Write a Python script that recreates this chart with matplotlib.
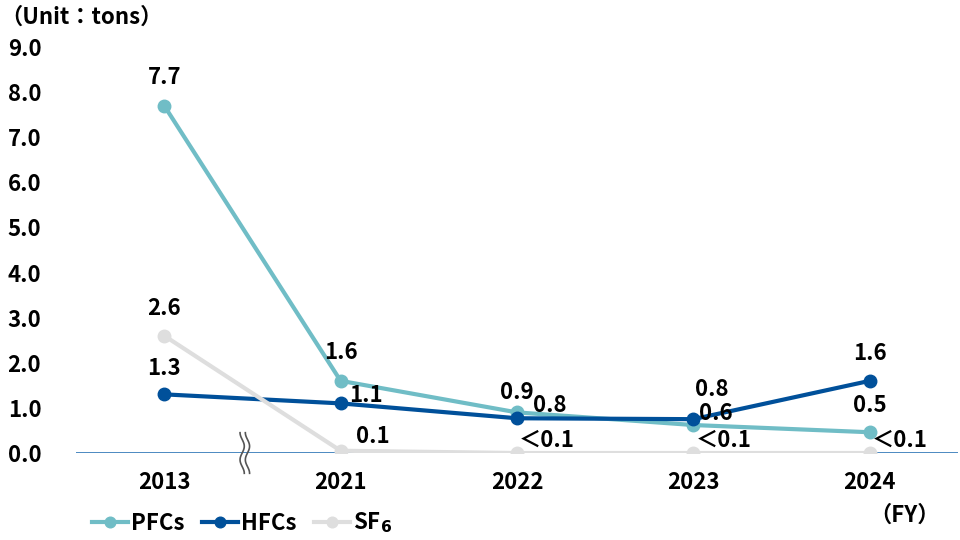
import numpy as np
import matplotlib
matplotlib.use("Agg")
import matplotlib.pyplot as plt

plt.rcParams['font.family'] = ['Noto Sans CJK JP', 'DejaVu Sans']
plt.rcParams['font.weight'] = 'bold'

years = ["2013", "2021", "2022", "2023", "2024"]
pfcs = [7.7, 1.6, 0.9, 0.62, 0.46]
hfcs = [1.3, 1.1, 0.77, 0.75, 1.6]
sf6 = [2.6, 0.05, 0.0, 0.0, 0.0]
pfcs_lbl = ["7.7", "1.6", "0.9", "0.6", "0.5"]
hfcs_lbl = ["1.3", "1.1", "0.8", "0.8", "1.6"]
sf6_lbl = ["2.6", "0.1", "＜0.1", "＜0.1", "＜0.1"]
yticks = np.arange(0, 10, 1.0)

c_pfc = "#70bdc6"
c_hfc = "#00509a"
c_sf6 = "#dedede"
fs = 16

fig = plt.figure(figsize=(9.6, 5.4), dpi=100)
ax = fig.add_axes([76 / 960, 87 / 540, 882 / 960, 406 / 540])
x = np.arange(len(years))

ax.axhline(0, color="#2e75b6", lw=1.2, zorder=1)
ax.plot(x, pfcs, color=c_pfc, lw=3, marker="o", ms=9, label="PFCs", zorder=3)
ax.plot(x, hfcs, color=c_hfc, lw=3, marker="o", ms=9, label="HFCs", zorder=4)
ax.plot(x, sf6, color=c_sf6, lw=3, marker="o", ms=9, label="SF$_6$", zorder=5)

# label offsets in pixels (dx, dy)
pfc_off = [(0, 28), (0, 28), (0, 20), (22, 12), (0, 27)]
hfc_off = [(0, 26), (25, 8), (33, 13), (18, 30), (0, 27)]
sf6_off = [(0, 27), (32, 14), (30, 13), (30, 13), (30, 13)]
for vals, lbls, offs in [(pfcs, pfcs_lbl, pfc_off), (hfcs, hfcs_lbl, hfc_off), (sf6, sf6_lbl, sf6_off)]:
    for i in range(len(years)):
        ax.annotate(lbls[i], (x[i], vals[i]), xytext=offs[i], textcoords="offset pixels",
                    ha="center", va="center", fontsize=fs, fontweight="bold", zorder=6)

ax.set_xlim(-0.5, 4.5)
ax.set_ylim(0, 9)
ax.set_yticks(yticks)
ax.set_yticklabels(["%.1f" % v for v in yticks])
ax.set_xticks(x)
ax.set_xticklabels(years)
ax.tick_params(length=0, labelsize=fs)
ax.tick_params(axis="y", pad=25)
ax.tick_params(axis="x", pad=13)
for lab in ax.get_xticklabels() + ax.get_yticklabels():
    lab.set_fontweight("bold")
for s in ax.spines.values():
    s.set_visible(False)
ax.patch.set_visible(False)

# axis break mark between 2013 and 2021
t = np.linspace(-1, 1, 50)
for dx in (-0.018, 0.012):
    bx = 0.46 + dx + 0.012 * np.sin(t * np.pi * 1.5)
    by = t * 0.45
    ax.plot(bx, by, color="#555555", lw=1.2, clip_on=False, zorder=7)

fig.text(0, 1 - 17 / 540, "（Unit：tons）", fontsize=fs, fontweight="bold", ha="left", va="center")
fig.text(905 / 960, 1 - 515 / 540, "（FY）", fontsize=fs, fontweight="bold", ha="center", va="center")

fig.legend(loc="center left", bbox_to_anchor=(72 / 960, 1 - 523 / 540), ncol=3, frameon=False,
           prop={"size": fs, "weight": "bold"}, handlelength=1.6, handletextpad=0.15,
           columnspacing=0.8, markerscale=0.85)

fig.savefig("out.png", dpi=100)
